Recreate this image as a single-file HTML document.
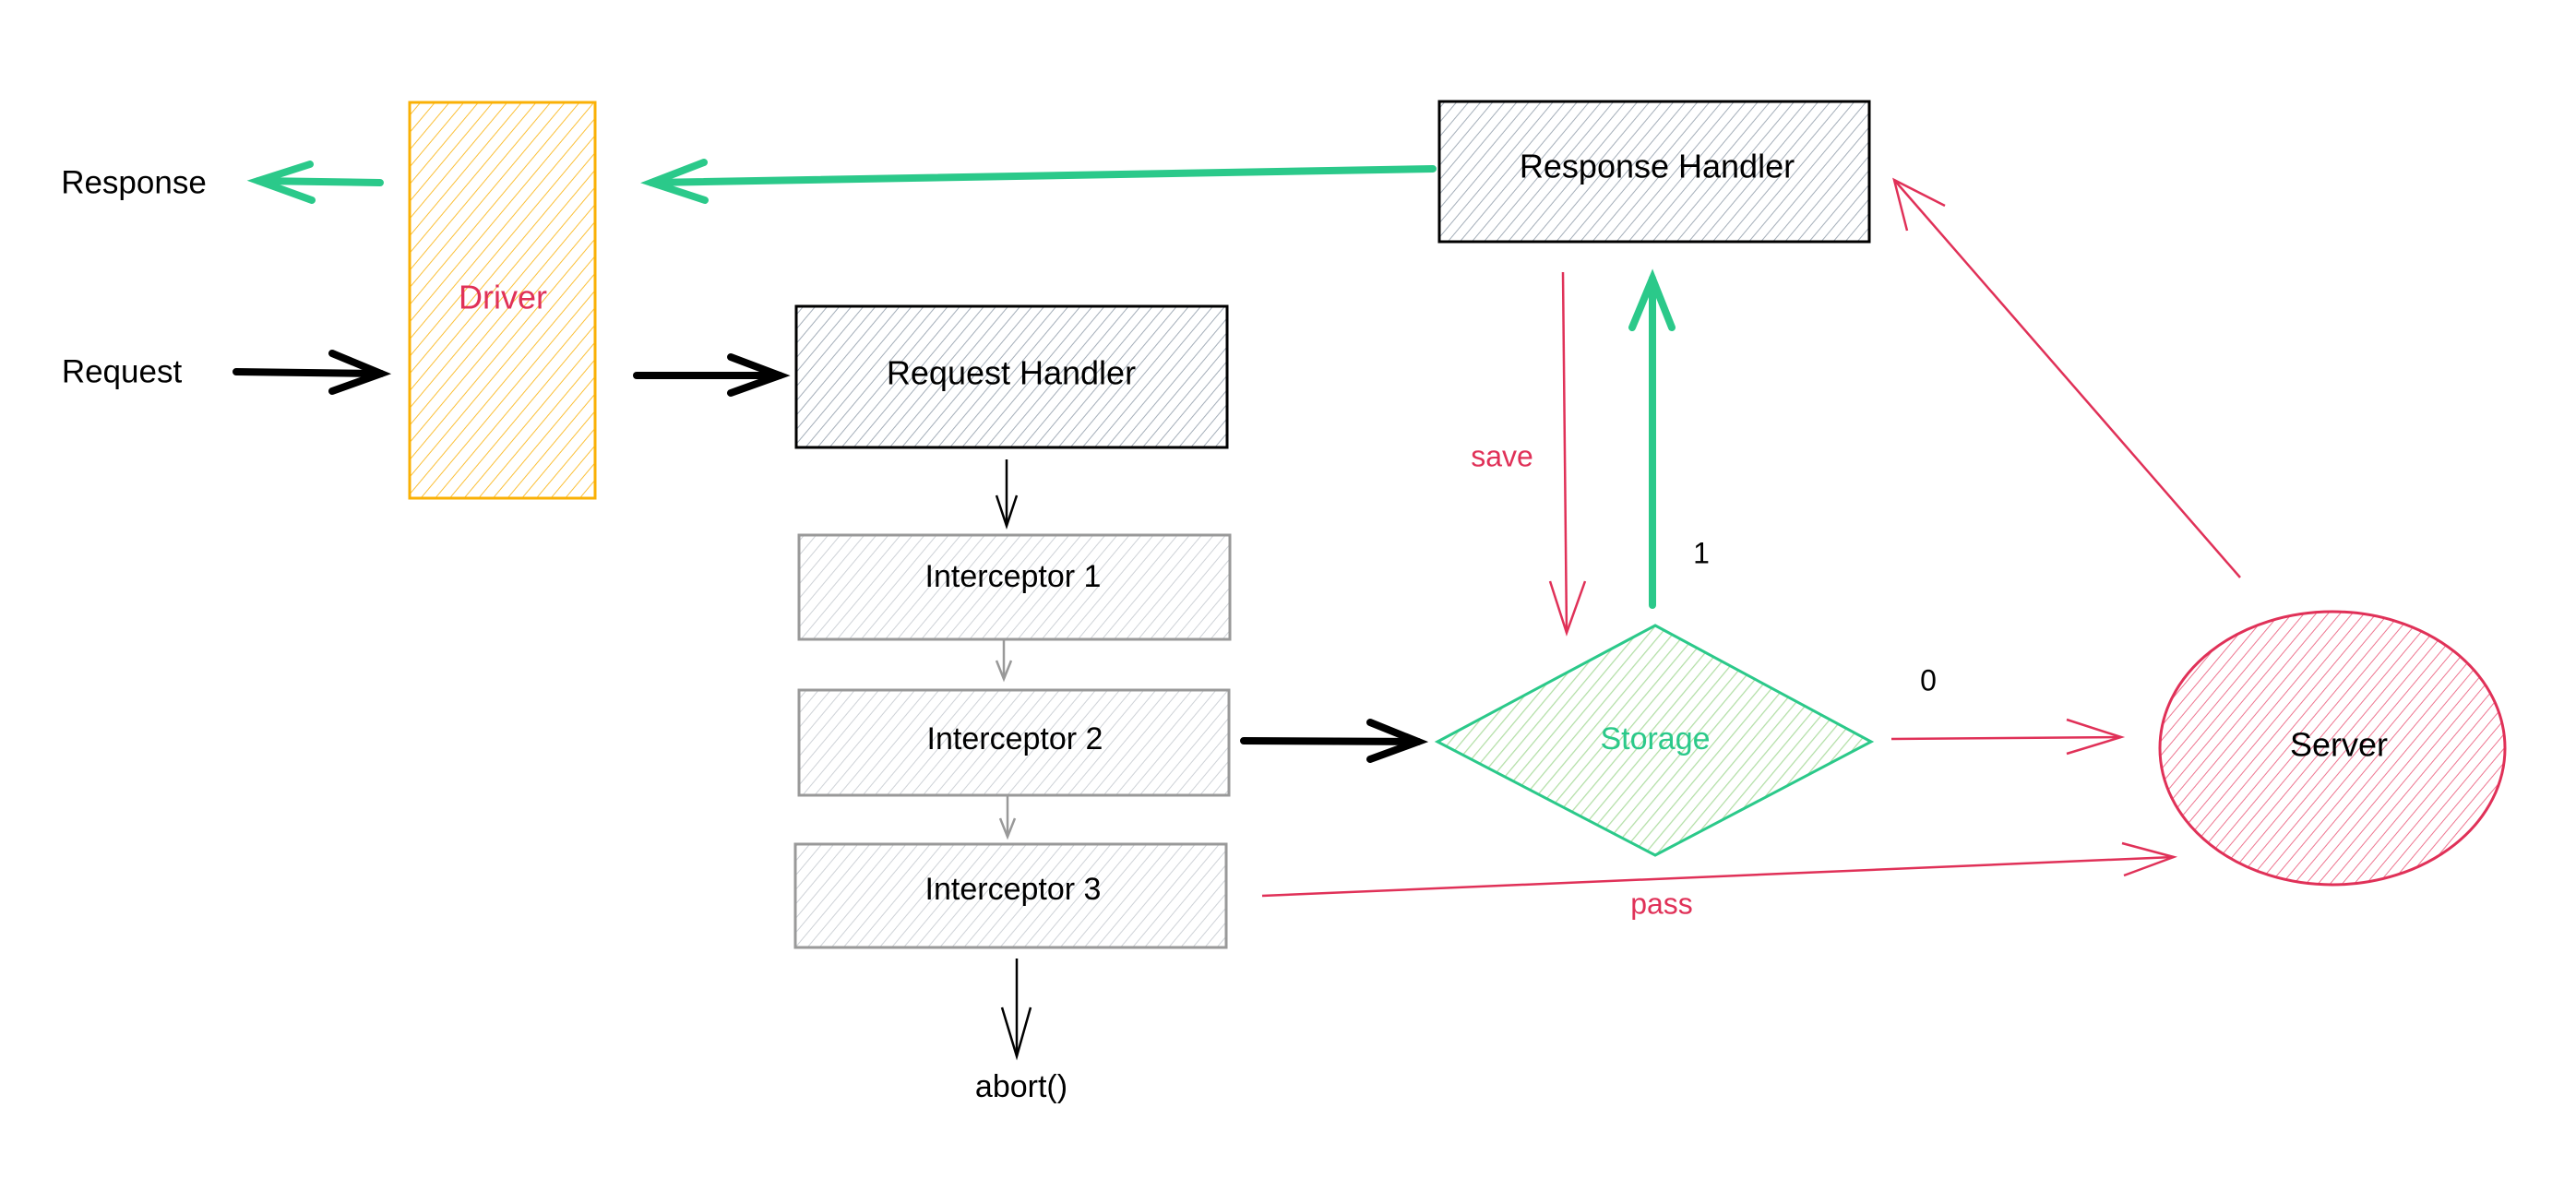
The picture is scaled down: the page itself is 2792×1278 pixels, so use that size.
<!DOCTYPE html>
<html><head><meta charset="utf-8"><style>
html,body{margin:0;padding:0;background:#fff}
svg{display:block}
text{font-family:"Liberation Sans",sans-serif;dominant-baseline:middle;text-anchor:middle}
</style></head><body>
<svg width="2792" height="1278" viewBox="0 0 2792 1278" xmlns="http://www.w3.org/2000/svg">
<defs>
<pattern id="hy" width="12" height="12" patternUnits="userSpaceOnUse" patternTransform="rotate(40)"><line x1="0" y1="0" x2="0" y2="12" stroke="#fab005" stroke-width="2" opacity="0.8"/></pattern>
<pattern id="hg" width="10" height="10" patternUnits="userSpaceOnUse" patternTransform="rotate(40)"><line x1="0" y1="0" x2="0" y2="10" stroke="#8d9aa8" stroke-width="2" opacity="0.8"/></pattern>
<pattern id="hl" width="10" height="10" patternUnits="userSpaceOnUse" patternTransform="rotate(40)"><line x1="0" y1="0" x2="0" y2="10" stroke="#b9bfc6" stroke-width="2" opacity="0.7"/></pattern>
<pattern id="hgr" width="10" height="10" patternUnits="userSpaceOnUse" patternTransform="rotate(40)"><line x1="0" y1="0" x2="0" y2="10" stroke="#b2dfa6" stroke-width="2.5"/></pattern>
<pattern id="hr" width="10" height="10" patternUnits="userSpaceOnUse" patternTransform="rotate(40)"><line x1="0" y1="0" x2="0" y2="10" stroke="#ee7590" stroke-width="2"/></pattern>
</defs>

<!-- Driver -->
<rect x="444" y="111" width="201" height="429" fill="url(#hy)" stroke="#fab005" stroke-width="3"/>
<text x="545" y="325" font-size="36" fill="#e03158">Driver</text>

<text x="145" y="200" font-size="35" fill="#000">Response</text>
<text x="132" y="405" font-size="35" fill="#000">Request</text>

<!-- green arrows -->
<g stroke="#2bc98a" stroke-width="8" fill="none" stroke-linecap="round">
<line x1="412" y1="198" x2="280" y2="196"/>
<polyline points="336,178 280,196 338,217"/>
<line x1="1553" y1="183" x2="706" y2="198"/>
<polyline points="763,176 706,198 764,217"/>
<line x1="1791" y1="656" x2="1791" y2="302"/>
<polyline points="1769,355 1791,302 1812,355"/>
</g>

<!-- black thick arrows -->
<g stroke="#000" stroke-width="8" fill="none" stroke-linecap="round">
<line x1="256" y1="403" x2="413" y2="405"/>
<polyline points="360,383 413,405 360,424"/>
<line x1="690" y1="407" x2="845" y2="407"/>
<polyline points="792,387 845,407 792,426"/>
<line x1="1348" y1="803" x2="1537" y2="804"/>
<polyline points="1485,783 1537,804 1485,823"/>
</g>

<!-- Request Handler -->
<rect x="863" y="332" width="467" height="153" fill="url(#hg)" stroke="#000" stroke-width="3"/>
<text x="1096" y="407" font-size="36">Request Handler</text>

<!-- Response Handler -->
<rect x="1560" y="110" width="466" height="152" fill="url(#hg)" stroke="#000" stroke-width="3"/>
<text x="1796" y="183" font-size="36">Response Handler</text>

<!-- Interceptors -->
<g stroke="#999" stroke-width="3">
<rect x="866" y="580" width="467" height="113" fill="url(#hl)"/>
<rect x="866" y="748" width="466" height="114" fill="url(#hl)"/>
<rect x="862" y="915" width="467" height="112" fill="url(#hl)"/>
</g>
<text x="1098" y="627" font-size="34">Interceptor 1</text>
<text x="1100" y="803" font-size="34">Interceptor 2</text>
<text x="1098" y="966" font-size="34">Interceptor 3</text>

<!-- thin vertical arrows -->
<g fill="none" stroke-width="2.5">
<g stroke="#000"><line x1="1091" y1="498" x2="1091" y2="570"/><polyline points="1080,537 1091,570 1102,537"/></g>
<g stroke="#999"><line x1="1088" y1="693" x2="1088" y2="736"/><polyline points="1080,716 1088,736 1096,716"/>
<line x1="1092" y1="863" x2="1092" y2="907"/><polyline points="1084,887 1092,907 1100,887"/></g>
<g stroke="#000"><line x1="1102" y1="1039" x2="1102" y2="1145"/><polyline points="1086,1092 1102,1145 1117,1092"/></g>
</g>
<text x="1107" y="1180" font-size="34">abort()</text>

<!-- Storage diamond -->
<polygon points="1794,678 2028,804 1794,927 1558,804" fill="url(#hgr)" stroke="#2bc98a" stroke-width="3"/>
<text x="1794" y="803" font-size="34" fill="#2bc98a">Storage</text>

<!-- Server -->
<ellipse cx="2528" cy="811" rx="187" ry="148" fill="url(#hr)" stroke="#e03158" stroke-width="3"/>
<text x="2535" y="810" font-size="36">Server</text>

<!-- red arrows -->
<g stroke="#e03158" stroke-width="2.5" fill="none">
<line x1="1694" y1="295" x2="1698" y2="686"/><polyline points="1680,630 1698,686 1718,630"/>
<line x1="2050" y1="801" x2="2299" y2="799"/><polyline points="2240,780 2299,799 2240,817"/>
<line x1="2428" y1="626" x2="2053" y2="195"/><polyline points="2067,250 2053,195 2108,223"/>
<line x1="1368" y1="971" x2="2356" y2="929"/><polyline points="2300,914 2356,929 2302,949"/>
</g>
<text x="1628" y="497" font-size="32" fill="#e03158">save</text>
<text x="1801" y="982" font-size="32" fill="#e03158">pass</text>
<text x="1844" y="602" font-size="32">1</text>
<text x="2090" y="740" font-size="32">0</text>
</svg>
</body></html>
